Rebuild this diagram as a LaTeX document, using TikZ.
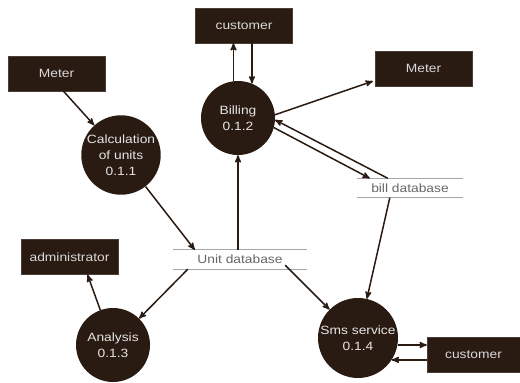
\documentclass[tikz,border=0pt]{standalone}
\usepackage{fontspec}
\setmainfont{Liberation Sans}[FakeStretch=1.15]
\usetikzlibrary{arrows}
\usetikzlibrary{positioning}
\usetikzlibrary{calc}
\definecolor{dfdbrown}{RGB}{42,27,18}

\begin{document}
\begin{tikzpicture}[->,>=stealth',x=1pt,y=-1pt]
				\tikzset{entity/.style = {shape=rectangle, fill=dfdbrown, draw=dfdbrown!85!white, text=white!85!black, inner sep=0pt, minimum width=97, minimum height=35, font=\fontsize{12}{14}\selectfont}}
				\tikzset{process/.style = {shape=circle, fill=dfdbrown, text=white!90!black, inner sep=0pt, minimum size=74, align=center, font=\fontsize{12}{16}\selectfont}}
				\tikzset{store/.style = {shape=rectangle, inner sep=0pt, minimum height=19, text=black!60, font=\fontsize{12}{14}\selectfont}}
				\tikzset{flow/.style = {line width=1.5pt, draw=dfdbrown}}
				\tikzset{storeline/.style = {-, line width=0.9pt, draw=black!35}}
				\useasboundingbox (0,0) rectangle (520,383);
				
				\node[entity] (METERL) at (56.5,73.5) {Meter};
				\node[entity] (CUSTTOP) at (244,25.5) {customer};
				\node[entity] (METERR) at (423.5,68.5) {Meter};
				\node[entity] (ADMIN) at (69.5,257) {administrator};
				\node[entity, minimum width=93] (CUSTBOT) at (473.5,354.5) {customer};
				
				\node[process, minimum size=72] (CALC) at (121,155) {Calculation\\of units\\0.1.1};
				\node[process] (BILL) at (238,118) {Billing\\0.1.2};
				\node[process] (ANALYSIS) at (113,345) {Analysis\\0.1.3};
				\node[process, minimum size=80] (SMS) at (358,338) {Sms service\\0.1.4};
				
				\node[store, minimum width=134] (UNITDB) at (240,259.5) {Unit database};
				\node[store, minimum width=106] (BILLDB) at (410,188) {bill database};
				\draw[storeline] (UNITDB.north west) -- (UNITDB.north east);
				\draw[storeline] (UNITDB.south west) -- (UNITDB.south east);
				\draw[storeline] (BILLDB.north west) -- (BILLDB.north east);
				\draw[storeline] (BILLDB.south west) -- (BILLDB.south east);
				
				\coordinate (METEROUT) at ($(METERL.south)+(7,0)$);
				\coordinate (UNITIN) at ($(UNITDB.north west)+(22,0)$);
				\coordinate (UNITUP) at (UNITDB.north -| BILL);
				\coordinate (UNITLEFT) at ($(UNITDB.south west)+(15,0)$);
				\coordinate (UNITRIGHT) at ($(UNITDB.south east)+(-22,-4)$);
				\coordinate (ADMININ) at ($(ADMIN.south)+(18,0)$);
				\coordinate (METERRIN) at ($(METERR.south west)+(-2,-5)$);
				\coordinate (BILLTOP1) at ($(BILLDB.north west)+(31,0)$);
				\coordinate (BILLTOP2) at ($(BILLDB.north west)+(13,0)$);
				\coordinate (BILLBOT) at ($(BILLDB.south west)+(33,0)$);
				
				\draw[flow] (METEROUT) -- (CALC);
				\draw[flow] (CALC) -- (UNITIN);
				\draw[flow] (UNITUP) -- (BILL);
				\draw[flow] (UNITLEFT) -- (ANALYSIS);
				\draw[flow] (ANALYSIS) -- (ADMININ);
				\draw[flow] (UNITRIGHT) -- (SMS);
				\draw[flow] (BILL.97) -- (BILL.97 |- CUSTTOP.south);
				\draw[flow] (CUSTTOP.south -| BILL.68) -- (BILL.68);
				\draw[flow] (BILL.5) -- (METERRIN);
				\draw[flow] (BILLTOP1) -- (BILL.-3);
				\draw[flow] (BILL.-15) -- (BILLTOP2);
				\draw[flow] (BILLBOT) -- (SMS);
				\draw[flow] (SMS.-10) -- (SMS.-10 -| CUSTBOT.west);
				\draw[flow] (CUSTBOT.west |- SMS.-33) -- (SMS.-33);
				
				\end{tikzpicture}
\end{document}
